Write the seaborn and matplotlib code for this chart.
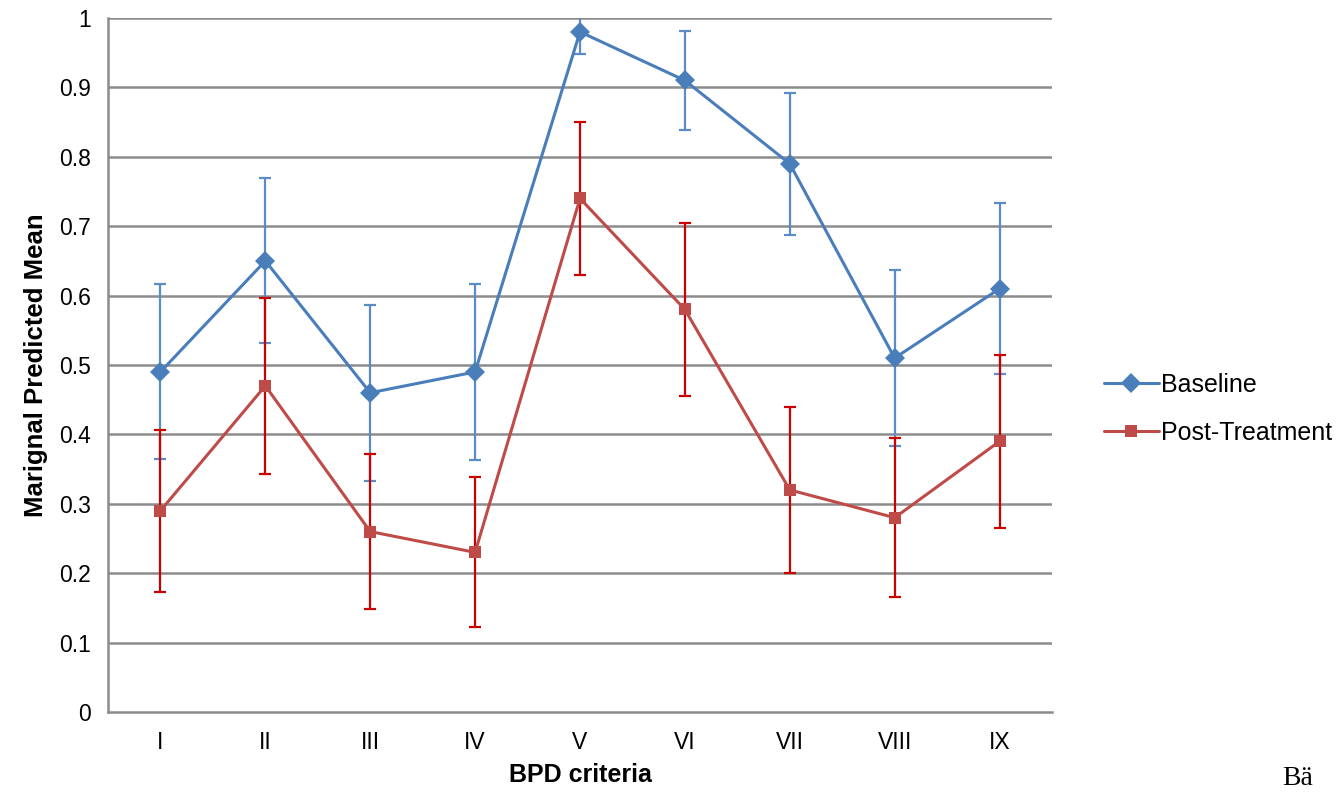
import matplotlib
matplotlib.use("Agg")
import matplotlib.pyplot as plt
import seaborn as sns
import pandas as pd
import numpy as np
from matplotlib.lines import Line2D

categories = ["I", "II", "III", "IV", "V", "VI", "VII", "VIII", "IX"]
baseline = [0.49, 0.65, 0.46, 0.49, 0.98, 0.91, 0.79, 0.51, 0.61]
baseline_err = [0.126, 0.119, 0.127, 0.127, 0.032, 0.071, 0.102, 0.127, 0.123]
post = [0.29, 0.47, 0.26, 0.23, 0.74, 0.58, 0.32, 0.28, 0.39]
post_err = [0.117, 0.127, 0.112, 0.108, 0.11, 0.125, 0.12, 0.115, 0.125]
yticks = [0, 0.1, 0.2, 0.3, 0.4, 0.5, 0.6, 0.7, 0.8, 0.9, 1]

sns.set_style("white")
plt.rcParams['font.family'] = ['Liberation Sans', 'DejaVu Sans']
plt.rcParams['text.color'] = 'black'
plt.rcParams['axes.labelcolor'] = 'black'
plt.rcParams['xtick.color'] = 'black'
plt.rcParams['ytick.color'] = 'black'

blue = "#4A7EBB"
blue_err = "#5B8CC8"
red = "#BE4B48"
red_err = "#CC0000"
grid_c = "#8C8C8C"

fig = plt.figure(figsize=(13.4, 7.92), dpi=100)
ax = fig.add_axes([108/1340, 1-712/792, (1052-108)/1340, (712-18)/792])

x = np.arange(len(categories))
df = pd.DataFrame({
    "x": np.concatenate([x, x]),
    "y": baseline + post,
    "series": ["Baseline"] * len(x) + ["Post-Treatment"] * len(x),
})

for yv in yticks[1:]:
    ax.axhline(yv, color=grid_c, lw=1.8, zorder=0)

ax.errorbar(x, baseline, yerr=baseline_err, fmt="none", ecolor=blue_err,
            elinewidth=1.6, capsize=4.5, capthick=1.6, zorder=2, clip_on=True)
ax.errorbar(x, post, yerr=post_err, fmt="none", ecolor=red_err,
            elinewidth=1.6, capsize=4.5, capthick=1.6, zorder=3, clip_on=True)

sns.lineplot(data=df[df.series == "Baseline"], x="x", y="y", ax=ax, color=blue,
             marker="D", markersize=10, markeredgewidth=0, lw=2.2, zorder=4,
             legend=False)
sns.lineplot(data=df[df.series == "Post-Treatment"], x="x", y="y", ax=ax, color=red,
             marker="s", markersize=9, markeredgewidth=0, lw=2.2, zorder=5,
             legend=False)

ax.set_xlim(-0.5, len(categories) - 0.5)
ax.set_ylim(0, 1)
ax.set_yticks(yticks)
ax.set_yticklabels([("%g" % v) for v in yticks], fontsize=16.5)
ax.set_xticks(x)
ax.set_xticklabels(categories, fontsize=16.5)
ax.tick_params(axis="x", which="major", length=0, pad=14, labelcolor="black")
ax.set_xticks(np.arange(-0.5, len(categories), 1), minor=True)
ax.tick_params(axis="x", which="minor", length=6, width=1.8, color=grid_c, direction="out")
ax.tick_params(axis="y", which="major", length=6, width=1.8, color=grid_c,
               direction="out", pad=6, labelcolor="black")

for s in ["top", "right"]:
    ax.spines[s].set_visible(False)
for s in ["left", "bottom"]:
    ax.spines[s].set_color(grid_c)
    ax.spines[s].set_linewidth(1.8)

ax.set_xlabel("BPD criteria", fontsize=18, fontweight="bold", labelpad=6, color="black")
ax.set_ylabel("Marignal Predicted Mean", fontsize=18.5, fontweight="bold", labelpad=8,
              color="black")

handles = [
    Line2D([0], [0], color=blue, lw=2.2, marker="D", markersize=10, markeredgewidth=0),
    Line2D([0], [0], color=red, lw=2.2, marker="s", markersize=9, markeredgewidth=0),
]
fig.legend(handles, ["Baseline", "Post-Treatment"], loc="center left",
           bbox_to_anchor=(1091/1340, 1-409/792), frameon=False, fontsize=18,
           handlelength=2.2, handletextpad=0.1, labelspacing=0.95, borderpad=0,
           labelcolor="black")

fig.text(1282/1340, 1/792, "Bä", fontsize=20, family=["Liberation Serif", "DejaVu Serif"],
         ha="left", va="bottom", color="black")

fig.savefig("out.png", dpi=100)
